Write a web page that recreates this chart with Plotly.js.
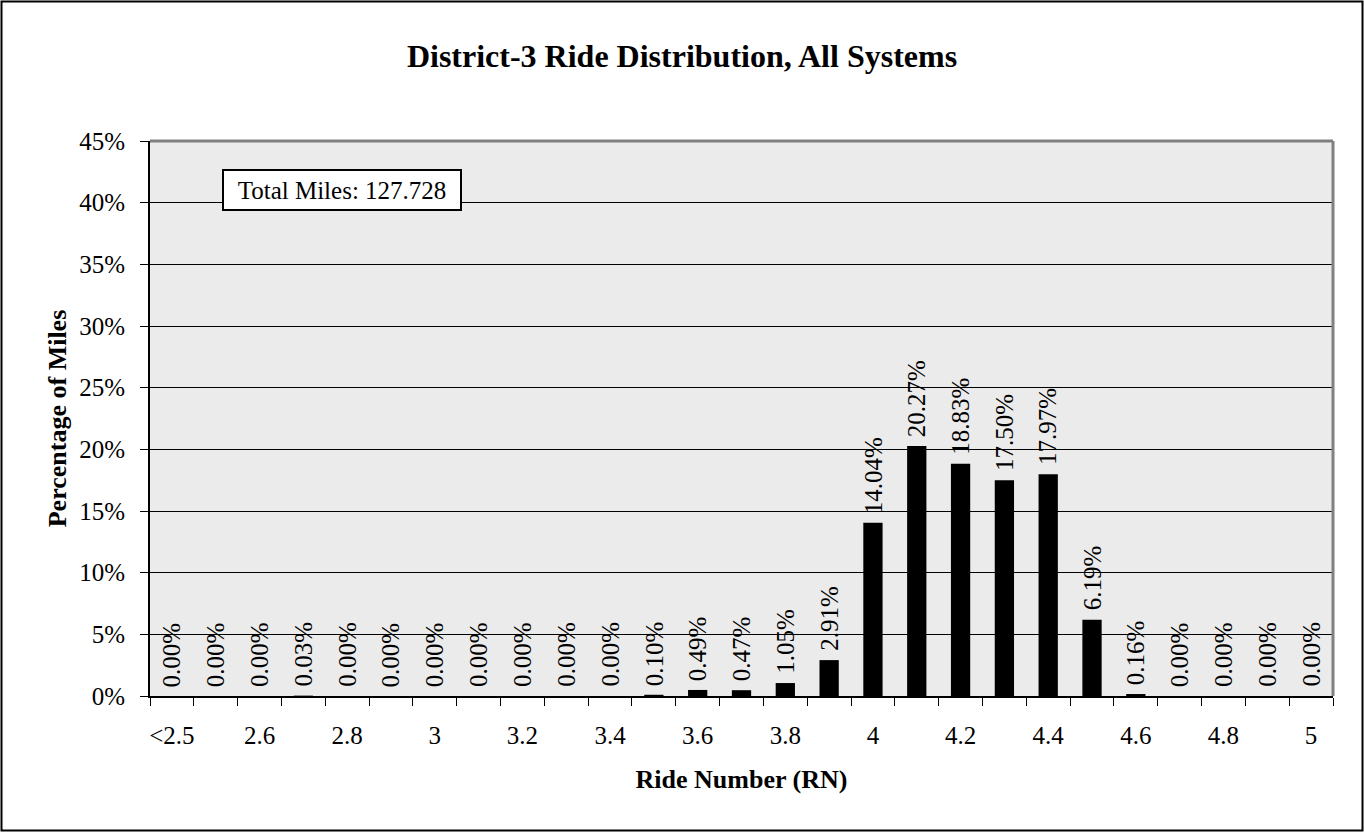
<!DOCTYPE html>
<html>
<head>
<meta charset="utf-8">
<script src="https://cdn.plot.ly/plotly-3.0.1.min.js"></script>
<style>
  html, body { margin: 0; padding: 0; background: #ffffff; }
  #chart { width: 1364px; height: 832px; }
</style>
</head>
<body>
<div id="chart"></div>
<script>
// Ride number bins (RN) and share of miles in each bin, in percent
const rideBins = ['<2.5', '2.5', '2.6', '2.7', '2.8', '2.9', '3.0', '3.1', '3.2', '3.3',
                  '3.4', '3.5', '3.6', '3.7', '3.8', '3.9', '4.0', '4.1', '4.2', '4.3',
                  '4.4', '4.5', '4.6', '4.7', '4.8', '4.9', '5.0'];
const mileShare = [0.00, 0.00, 0.00, 0.03, 0.00, 0.00, 0.00, 0.00, 0.00, 0.00,
                   0.00, 0.10, 0.49, 0.47, 1.05, 2.91, 14.04, 20.27, 18.83, 17.50,
                   17.97, 6.19, 0.16, 0.00, 0.00, 0.00, 0.00];
// Only every other bin carries a printed label
const binLabels = ['&lt;2.5', '', '2.6', '', '2.8', '', '3', '', '3.2', '',
                   '3.4', '', '3.6', '', '3.8', '', '4', '', '4.2', '',
                   '4.4', '', '4.6', '', '4.8', '', '5'];
const totalMiles = '127.728';

const W = 1364, H = 832;
const M = { l: 150, r: 31, t: 141, b: 136 };
const pw = W - M.l - M.r, ph = H - M.t - M.b;
const serif = 'Liberation Serif, Times New Roman, serif';

const trace = {
  type: 'bar',
  x: rideBins,
  y: mileShare,
  marker: { color: '#000000', line: { width: 0 } },
  width: 0.44,
  hoverinfo: 'x+y'
};

// Rotated value labels sitting just above each bar
// (x given as the category index so numeric-looking bin names are not misread)
const valueLabels = rideBins.map((b, i) => ({
  x: i,
  y: mileShare[i],
  xref: 'x',
  yref: 'y',
  text: mileShare[i].toFixed(2) + '%',
  textangle: -90,
  xanchor: 'center',
  yanchor: 'bottom',
  yshift: 8,
  showarrow: false,
  borderpad: 0,
  font: { family: serif, size: 25, color: '#000000' }
}));

const layout = {
  width: W,
  height: H,
  margin: M,
  paper_bgcolor: '#ffffff',
  plot_bgcolor: '#ebebeb',
  showlegend: false,
  font: { family: serif, size: 25, color: '#000000' },
  title: {
    text: '<b>District-3 Ride Distribution, All Systems</b>',
    font: { family: serif, size: 32, color: '#000000' },
    xref: 'container', x: 0.5, xanchor: 'center',
    yref: 'container', y: 1 - 56 / H, yanchor: 'middle'
  },
  xaxis: {
    type: 'category',
    categoryorder: 'array',
    categoryarray: rideBins,
    tickmode: 'array',
    tickvals: rideBins,
    ticktext: binLabels,
    tickson: 'boundaries',
    tickangle: 0,
    ticks: 'outside',
    ticklen: 8,
    tickwidth: 1,
    tickcolor: '#000000',
    ticklabelstandoff: 16,
    showgrid: false,
    showline: true,
    linecolor: '#000000',
    linewidth: 2,
    tickfont: { family: serif, size: 25, color: '#000000' },
    title: {
      text: '<b>Ride Number (RN)</b>',
      font: { family: serif, size: 26, color: '#000000' },
      standoff: 22
    },
    fixedrange: true
  },
  yaxis: {
    range: [0, 45],
    dtick: 5,
    tick0: 0,
    ticksuffix: '%',
    ticks: 'outside',
    ticklen: 8,
    tickwidth: 1,
    tickcolor: '#000000',
    ticklabelstandoff: 10,
    showgrid: true,
    gridcolor: '#000000',
    gridwidth: 1,
    zeroline: false,
    showline: true,
    linecolor: '#000000',
    linewidth: 2,
    tickfont: { family: serif, size: 25, color: '#000000' },
    title: {
      text: '<b>Percentage of Miles</b>',
      font: { family: serif, size: 26, color: '#000000' },
      standoff: 5
    },
    fixedrange: true
  },
  shapes: [
    // grey frame on the top and right of the plot area
    { type: 'line', xref: 'paper', yref: 'paper', x0: 0, x1: 1, y0: 1, y1: 1,
      line: { color: '#808080', width: 3 } },
    { type: 'line', xref: 'paper', yref: 'paper', x0: 1, x1: 1, y0: 0, y1: 1,
      line: { color: '#808080', width: 3 } },
    // outer chart border
    { type: 'rect', xref: 'paper', yref: 'paper',
      x0: -(M.l - 1.5) / pw, x1: 1 + (M.r - 1.5) / pw,
      y0: -(M.b - 1.5) / ph, y1: 1 + (M.t - 1.5) / ph,
      line: { color: '#000000', width: 2 }, fillcolor: 'rgba(0,0,0,0)' }
  ],
  annotations: valueLabels.concat([
    {
      text: 'Total Miles: ' + totalMiles,
      xref: 'paper', yref: 'paper',
      x: (222 - M.l) / pw, xanchor: 'left',
      y: 1 - (169 - M.t) / ph, yanchor: 'top',
      showarrow: false,
      font: { family: serif, size: 25, color: '#000000' },
      bgcolor: '#ffffff',
      bordercolor: '#000000',
      borderwidth: 2,
      borderpad: 2,
      width: 232,
      height: 34
    }
  ])
};

Plotly.newPlot('chart', [trace], layout, { displayModeBar: false, staticPlot: true });
</script>
</body>
</html>
